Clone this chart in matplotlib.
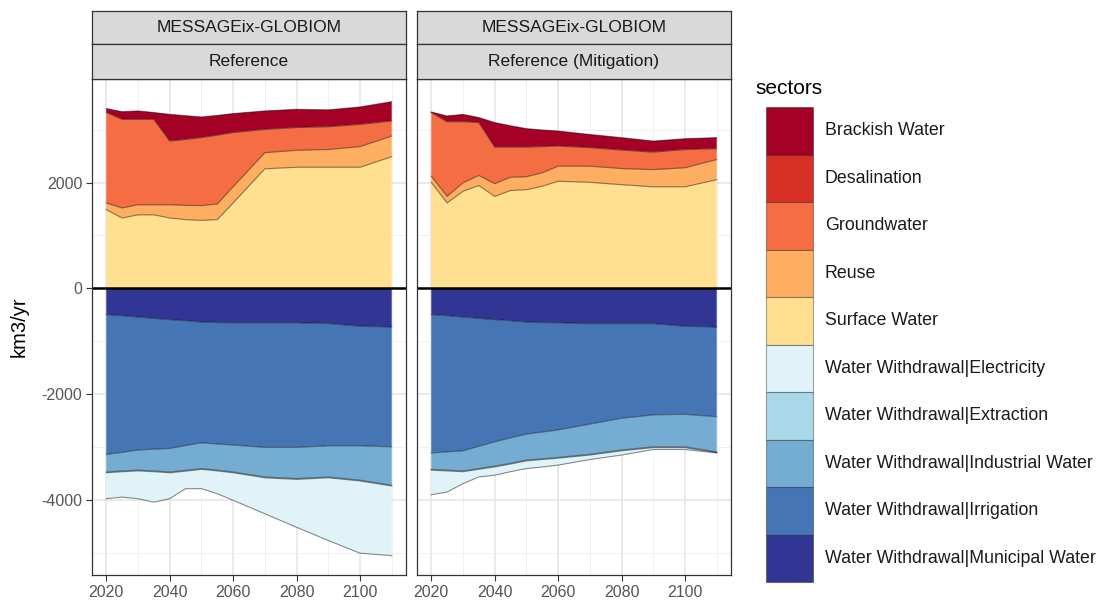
import matplotlib
matplotlib.use("Agg")
import matplotlib.pyplot as plt
from matplotlib.patches import Rectangle

plt.rcParams['font.family'] = ['Liberation Sans', 'DejaVu Sans']

# ---------------- data ----------------
years = [2020, 2025, 2030, 2035, 2040, 2045, 2050, 2055, 2060, 2070, 2080, 2090, 2100, 2110]

sectors = ["Brackish Water", "Desalination", "Groundwater", "Reuse", "Surface Water",
           "Water Withdrawal|Electricity", "Water Withdrawal|Extraction",
           "Water Withdrawal|Industrial Water", "Water Withdrawal|Irrigation",
           "Water Withdrawal|Municipal Water"]
colors = ["#A50026", "#D73027", "#F46D43", "#FDAE61", "#FEE090",
          "#E0F3F8", "#ABD9E9", "#74ADD1", "#4575B4", "#313695"]

panel_model = ["MESSAGEix-GLOBIOM", "MESSAGEix-GLOBIOM"]
panel_scenario = ["Reference", "Reference (Mitigation)"]

# Reference
ref_brackish = [70, 140, 155, 125, 500, 445, 385, 370, 355, 345, 340, 315, 325, 360]
ref_desal = [5, 5, 5, 5, 5, 5, 5, 5, 5, 5, 5, 5, 5, 5]
ref_ground = [1710, 1675, 1615, 1615, 1205, 1245, 1285, 1300, 1025, 440, 430, 430, 420, 285]
ref_reuse = [125, 190, 190, 190, 250, 270, 280, 295, 305, 305, 320, 335, 390, 390]
ref_surface = [1490, 1330, 1390, 1390, 1330, 1300, 1285, 1300, 1615, 2260, 2290, 2290, 2290, 2490]
ref_electricity = [-490, -480, -525, -575, -490, -330, -365, -430, -520, -680, -905, -1185, -1365, -1315]
ref_extraction = [-15, -15, -15, -15, -15, -15, -15, -15, -15, -15, -15, -15, -15, -15]
ref_industrial = [-330, -350, -380, -410, -445, -470, -485, -495, -510, -560, -590, -590, -650, -725]
ref_irrigation = [-2645, -2585, -2515, -2475, -2435, -2360, -2285, -2295, -2310, -2355, -2355, -2310, -2260, -2265]
ref_municipal = [-495, -515, -540, -565, -590, -610, -635, -645, -650, -650, -650, -665, -715, -730]

# Reference (Mitigation)
mit_brackish = [5, 105, 135, 90, 460, 400, 345, 310, 280, 245, 230, 205, 200, 205]
mit_desal = [5, 5, 5, 5, 5, 5, 5, 5, 5, 5, 5, 5, 5, 5]
mit_ground = [1205, 1410, 1155, 1000, 690, 570, 560, 495, 380, 350, 350, 330, 345, 205]
mit_reuse = [115, 125, 160, 190, 240, 250, 245, 255, 285, 305, 305, 325, 360, 380]
mit_surface = [2005, 1615, 1835, 1945, 1740, 1850, 1865, 1930, 2025, 2005, 1960, 1920, 1920, 2055]
mit_electricity = [-465, -400, -225, -145, -155, -145, -145, -140, -130, -85, -80, -35, -35, -5]
mit_extraction = [-15, -15, -15, -15, -15, -15, -15, -15, -15, -15, -15, -15, -15, -15]
mit_industrial = [-310, -345, -380, -420, -460, -480, -490, -505, -520, -570, -600, -605, -615, -665]
mit_irrigation = [-2615, -2575, -2530, -2420, -2310, -2215, -2120, -2070, -2025, -1900, -1790, -1725, -1665, -1695]
mit_municipal = [-495, -515, -540, -565, -590, -610, -635, -645, -650, -665, -665, -665, -715, -730]

panels = [
    [ref_brackish, ref_desal, ref_ground, ref_reuse, ref_surface,
     ref_electricity, ref_extraction, ref_industrial, ref_irrigation, ref_municipal],
    [mit_brackish, mit_desal, mit_ground, mit_reuse, mit_surface,
     mit_electricity, mit_extraction, mit_industrial, mit_irrigation, mit_municipal],
]

x_major = [2020, 2040, 2060, 2080, 2100]
x_minor = [2030, 2050, 2070, 2090, 2110]
y_major = [-4000, -2000, 0, 2000]
y_minor = [-5000, -3000, -1000, 1000, 3000]

# ---------------- layout ----------------
W, H = 1110, 607
fig = plt.figure(figsize=(W / 100, H / 100), dpi=100)


def rect(x0, y0, x1, y1):
    return [x0 / W, 1 - y1 / H, (x1 - x0) / W, (y1 - y0) / H]


panel_px = [(92, 406), (417, 731)]
ptop, pbot = 79, 575
edge = (0, 0, 0, 0.45)

for pi, (x0, x1) in enumerate(panel_px):
    ax = fig.add_axes(rect(x0, ptop, x1, pbot))
    ax.set_xlim(2015.5, 2114.5)
    ax.set_ylim(-5417, 3958)
    ax.set_facecolor("white")
    for v in x_minor:
        ax.axvline(v, color="#EEEEEE", lw=0.6, zorder=0)
    for v in x_major:
        ax.axvline(v, color="#E4E4E4", lw=1.1, zorder=0)
    for v in y_minor:
        ax.axhline(v, color="#EEEEEE", lw=0.6, zorder=0)
    for v in y_major:
        ax.axhline(v, color="#E4E4E4", lw=1.1, zorder=0)

    vals = panels[pi]
    # positive stack: surface (bottom) -> brackish (top)
    base = [0.0] * len(years)
    for idx in [4, 3, 2, 1, 0]:
        top = [b + v for b, v in zip(base, vals[idx])]
        ax.fill_between(years, base, top, facecolor=colors[idx], edgecolor="none", lw=0, zorder=2)
        if idx != 1:
            ax.plot(years, top, color=edge, lw=0.8, zorder=3)
        base = top
    # negative stack: municipal (near zero) -> electricity (bottom)
    base = [0.0] * len(years)
    for idx in [9, 8, 7, 6, 5]:
        bot = [b + v for b, v in zip(base, vals[idx])]
        ax.fill_between(years, bot, base, facecolor=colors[idx], edgecolor="none", lw=0, zorder=2)
        ax.plot(years, bot, color=edge, lw=0.8, zorder=3)
        base = bot

    ax.axhline(0, color="black", lw=1.8, zorder=4)

    for s in ax.spines.values():
        s.set_color("#333333")
        s.set_linewidth(0.9)
        s.set_zorder(5)
    ax.set_xticks(x_major)
    ax.set_xticklabels([str(v) for v in x_major])
    ax.set_yticks(y_major)
    ax.tick_params(axis="both", colors="#333333", length=4, width=0.8,
                   labelsize=11.5, labelcolor="#555555", pad=3)
    if pi == 0:
        ax.set_yticklabels([str(v) for v in y_major])
    else:
        ax.tick_params(axis="y", length=0, labelleft=False)

    # strips
    for (sy0, sy1, label) in [(11, 44, panel_model[pi]), (44, 79, panel_scenario[pi])]:
        sa = fig.add_axes(rect(x0, sy0, x1, sy1))
        sa.set_facecolor("#D9D9D9")
        sa.set_xticks([])
        sa.set_yticks([])
        for s in sa.spines.values():
            s.set_color("#333333")
            s.set_linewidth(0.9)
        sa.text(0.5, 0.5, label, ha="center", va="center", fontsize=12.5,
                color="#1A1A1A", transform=sa.transAxes)

# y label
fig.text(19 / W, 1 - 327 / H, "km3/yr", rotation=90, ha="center", va="center",
         fontsize=14.5, color="black")

# legend (manual, ggplot-style)
fig.text(755 / W, 1 - 89 / H, "sectors", ha="left", va="center", fontsize=15, color="black")
key_x0, key_x1 = 766, 813
key_top, key_h = 107, 47.5
lax = fig.add_axes([0, 0, 1, 1], facecolor="none")
lax.set_xlim(0, W)
lax.set_ylim(H, 0)
lax.axis("off")
for i, (name, c) in enumerate(zip(sectors, colors)):
    y0 = key_top + i * key_h
    lax.add_patch(Rectangle((key_x0, y0), key_x1 - key_x0, key_h, facecolor=c,
                            edgecolor=(0, 0, 0, 0.35), lw=0.8))
    lax.text(825, y0 + key_h / 2, name, ha="left", va="center", fontsize=12.8, color="#1A1A1A")

fig.savefig("out.png", dpi=100)
